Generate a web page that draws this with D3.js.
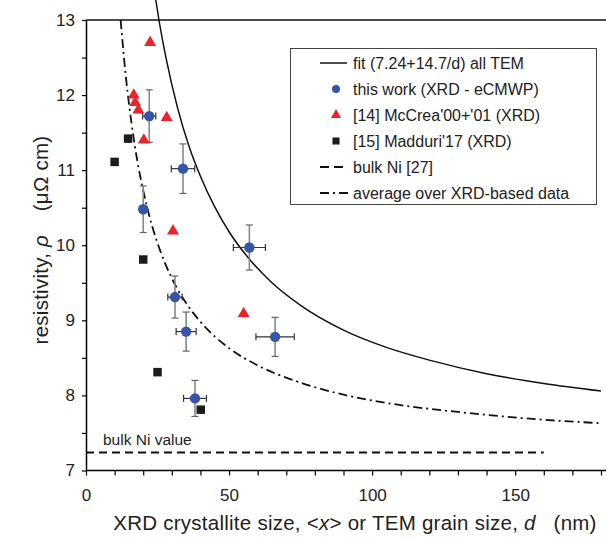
<!DOCTYPE html>
<html>
<head>
<meta charset="utf-8">
<script src="https://cdn.jsdelivr.net/npm/d3@7"></script>
<style>
  body { margin: 0; background: #fff; }
  svg { display: block; font-family: 'Liberation Sans', Arial, sans-serif; }
</style>
</head>
<body>
<div id="chart"></div>
<script>
// this work (XRD - eCMWP), with error bars
const workX = [22.1, 33.9, 20.0, 57.1, 31.1, 35.0, 38.1, 66.1]
const workY = [11.72, 11.02, 10.48, 9.97, 9.31, 8.85, 7.96, 8.78]
const workXErr = [2.3, 4.1, 1.2, 5.6, 2.5, 3.5, 4.0, 6.7]
const workYErr = [0.35, 0.33, 0.31, 0.3, 0.28, 0.26, 0.24, 0.26]

// [14] McCrea'00+'01 (XRD)
const mccreaX = [22.4, 16.7, 17.2, 18.3, 28.2, 20.2, 30.4, 55.1]
const mccreaY = [12.7, 12.0, 11.9, 11.8, 11.7, 11.4, 10.19, 9.09]

// [15] Madduri'17 (XRD)
const madduriX = [14.7, 10.0, 20.0, 25.0, 40.1]
const madduriY = [11.42, 11.11, 9.81, 8.31, 7.81]

// fit (7.24+14.7/d) all TEM
const fitD = [24.3, 25.5, 28, 32, 36, 40, 45, 50, 57, 65, 75, 90, 105, 120, 140, 160, 180]
const fitRho = [13.29, 13.0, 12.49, 11.83, 11.32, 10.92, 10.51, 10.18, 9.82, 9.5, 9.2, 8.87, 8.64, 8.47, 8.29, 8.16, 8.06]

// average over XRD-based data
const avgD = [12.1, 14, 16, 18, 20, 23, 26, 30, 35, 40, 50, 60, 75, 90, 110, 130, 155, 180]
const avgRho = [13.0, 12.22, 11.6, 11.11, 10.73, 10.27, 9.92, 9.56, 9.23, 8.98, 8.63, 8.4, 8.17, 8.01, 7.87, 7.78, 7.69, 7.63]

// bulk Ni [27]
const bulkNi = 7.24
const bulkEnd = 160

const xTicks = d3.range(0, 181, 10)
const xLabels = [0, 50, 100, 150]
const yTicks = d3.range(7, 13.01, 0.5)

const width = 606
const height = 540

const svg = d3
  .select('#chart')
  .append('svg')
  .attr('width', width)
  .attr('height', height)

const x = d3.scaleLinear().domain([0, 180]).range([86, 601])
const y = d3.scaleLinear().domain([7, 13]).range([470.5, 20])

// axes
const xAxis = svg
  .append('g')
  .attr('transform', `translate(0, ${y(7)})`)
  .call(
    d3
      .axisBottom(x)
      .tickValues(xTicks)
      .tickSize(5)
      .tickSizeOuter(0)
      .tickPadding(13)
      .tickFormat((d) => (xLabels.includes(d) ? d : ''))
  )
xAxis.select('.domain').attr('stroke-width', 1.5).attr('d', `M${x(0)},0H606`)
xAxis.selectAll('.tick line').attr('stroke-width', 1.2)
xAxis.selectAll('text').style('font-size', '17px').attr('fill', '#222')

const yAxis = svg
  .append('g')
  .attr('transform', `translate(${x(0)}, 0)`)
  .call(
    d3
      .axisLeft(y)
      .tickValues(yTicks)
      .tickSize(4)
      .tickSizeOuter(0)
      .tickPadding(7)
      .tickFormat((d) => (Number.isInteger(d) ? d : ''))
  )
yAxis.select('.domain').attr('stroke-width', 1.5)
yAxis.selectAll('.tick line').attr('stroke-width', 1.2)
yAxis.selectAll('text').style('font-size', '17px').attr('fill', '#222')

// top frame line
svg
  .append('line')
  .attr('x1', x(0))
  .attr('x2', 606)
  .attr('y1', y(13))
  .attr('y2', y(13))
  .attr('stroke', '#111')
  .attr('stroke-width', 1.5)

// bulk Ni line
svg
  .append('line')
  .attr('x1', x(0))
  .attr('x2', x(bulkEnd))
  .attr('y1', y(bulkNi))
  .attr('y2', y(bulkNi))
  .attr('stroke', '#111')
  .attr('stroke-width', 2)
  .attr('stroke-dasharray', '8,5')

svg
  .append('text')
  .attr('x', 103)
  .attr('y', 445)
  .style('font-size', '15.5px')
  .attr('fill', '#222')
  .text('bulk Ni value')

// curves
const line = d3.line().curve(d3.curveMonotoneX)

svg
  .append('path')
  .attr('d', line(fitD.map((d, i) => [x(d), y(fitRho[i])])))
  .attr('fill', 'none')
  .attr('stroke', '#111')
  .attr('stroke-width', 1.5)

svg
  .append('path')
  .attr('d', line(avgD.map((d, i) => [x(d), y(avgRho[i])])))
  .attr('fill', 'none')
  .attr('stroke', '#111')
  .attr('stroke-width', 1.8)
  .attr('stroke-dasharray', '9,4,2,4')

// error bars
const cap = 3.5
const eb = svg.append('g')
workX.forEach((d, i) => {
  const cx = x(d)
  const cy = y(workY[i])
  const y1 = y(workY[i] + workYErr[i])
  const y2 = y(workY[i] - workYErr[i])
  const x1 = x(d - workXErr[i])
  const x2 = x(d + workXErr[i])
  eb.append('line').attr('x1', cx).attr('x2', cx).attr('y1', y1).attr('y2', y2)
    .attr('stroke', '#888').attr('stroke-width', 1.6)
  eb.append('line').attr('x1', cx - cap).attr('x2', cx + cap).attr('y1', y1).attr('y2', y1)
    .attr('stroke', '#666').attr('stroke-width', 1.2)
  eb.append('line').attr('x1', cx - cap).attr('x2', cx + cap).attr('y1', y2).attr('y2', y2)
    .attr('stroke', '#666').attr('stroke-width', 1.2)
  eb.append('line').attr('x1', x1).attr('x2', x2).attr('y1', cy).attr('y2', cy)
    .attr('stroke', '#333').attr('stroke-width', 1.2)
  eb.append('line').attr('x1', x1).attr('x2', x1).attr('y1', cy - cap).attr('y2', cy + cap)
    .attr('stroke', '#333').attr('stroke-width', 1.2)
  eb.append('line').attr('x1', x2).attr('x2', x2).attr('y1', cy - cap).attr('y2', cy + cap)
    .attr('stroke', '#333').attr('stroke-width', 1.2)
})

const blue = '#3654a8'
const red = '#ee2229'
const black = '#1c1c1c'
const triangle = d3.symbol().type(d3.symbolTriangle).size(62)
const square = d3.symbol().type(d3.symbolSquare).size(72)

// markers
svg
  .append('g')
  .selectAll('path')
  .data(madduriX)
  .join('path')
  .attr('d', square)
  .attr('transform', (d, i) => `translate(${x(d)},${y(madduriY[i])})`)
  .attr('fill', black)

svg
  .append('g')
  .selectAll('path')
  .data(mccreaX)
  .join('path')
  .attr('d', triangle)
  .attr('transform', (d, i) => `translate(${x(d)},${y(mccreaY[i])})`)
  .attr('fill', red)

svg
  .append('g')
  .selectAll('circle')
  .data(workX)
  .join('circle')
  .attr('cx', (d) => x(d))
  .attr('cy', (d, i) => y(workY[i]))
  .attr('r', 5.2)
  .attr('fill', blue)

// legend
const legend = svg.append('g')
legend
  .append('rect')
  .attr('x', 290.5)
  .attr('y', 48.5)
  .attr('width', 306)
  .attr('height', 156)
  .attr('fill', '#fff')
  .attr('stroke', '#444')
  .attr('stroke-width', 1)

const legendItems = [
  { label: 'fit (7.24+14.7/d) all TEM', kind: 'solid' },
  { label: 'this work (XRD - eCMWP)', kind: 'circle' },
  { label: "[14] McCrea'00+'01 (XRD)", kind: 'triangle' },
  { label: "[15] Madduri'17 (XRD)", kind: 'square' },
  { label: 'bulk Ni [27]', kind: 'dash' },
  { label: 'average over XRD-based data', kind: 'dashdot' },
]
legendItems.forEach((item, i) => {
  const ly = 63 + i * 26
  const g = legend.append('g')
  if (item.kind === 'solid') {
    g.append('line').attr('x1', 320).attr('x2', 347).attr('y1', ly).attr('y2', ly)
      .attr('stroke', '#111').attr('stroke-width', 1.5)
  } else if (item.kind === 'dash') {
    g.append('line').attr('x1', 320).attr('x2', 347).attr('y1', ly).attr('y2', ly)
      .attr('stroke', '#111').attr('stroke-width', 2).attr('stroke-dasharray', '9,5')
  } else if (item.kind === 'dashdot') {
    g.append('line').attr('x1', 320).attr('x2', 349).attr('y1', ly).attr('y2', ly)
      .attr('stroke', '#111').attr('stroke-width', 1.8).attr('stroke-dasharray', '9,4,2,4')
  } else if (item.kind === 'circle') {
    g.append('circle').attr('cx', 336).attr('cy', ly).attr('r', 4).attr('fill', blue)
  } else if (item.kind === 'triangle') {
    g.append('path').attr('d', d3.symbol().type(d3.symbolTriangle).size(45))
      .attr('transform', `translate(336,${ly})`).attr('fill', red)
  } else {
    g.append('path').attr('d', d3.symbol().type(d3.symbolSquare).size(50))
      .attr('transform', `translate(336,${ly})`).attr('fill', black)
  }
  g.append('text')
    .attr('x', 353)
    .attr('y', ly)
    .attr('dy', '0.35em')
    .style('font-size', '16px')
    .attr('fill', '#222')
    .text(item.label)
})

// axis titles
const xTitle = svg
  .append('text')
  .attr('x', 355)
  .attr('y', 530)
  .attr('text-anchor', 'middle')
  .style('font-size', '20.5px')
  .style('letter-spacing', '0.25px')
  .attr('fill', '#222')
xTitle.append('tspan').text('XRD crystallite size, <')
xTitle.append('tspan').style('font-style', 'italic').text('x')
xTitle.append('tspan').text('> or TEM grain size, ')
xTitle.append('tspan').style('font-style', 'italic').text('d')
xTitle.append('tspan').text('\u00a0\u00a0\u00a0(nm)')

const yTitle = svg
  .append('text')
  .attr('transform', 'translate(48, 240) rotate(-90)')
  .attr('text-anchor', 'middle')
  .style('font-size', '20.5px')
  .style('letter-spacing', '0.25px')
  .attr('fill', '#222')
yTitle.append('tspan').text('resistivity, ')
yTitle.append('tspan').style('font-style', 'italic').text('\u03c1')
yTitle.append('tspan').text('\u00a0\u00a0\u00a0\u00a0(\u03bc\u03a9 cm)')
</script>
</body>
</html>
